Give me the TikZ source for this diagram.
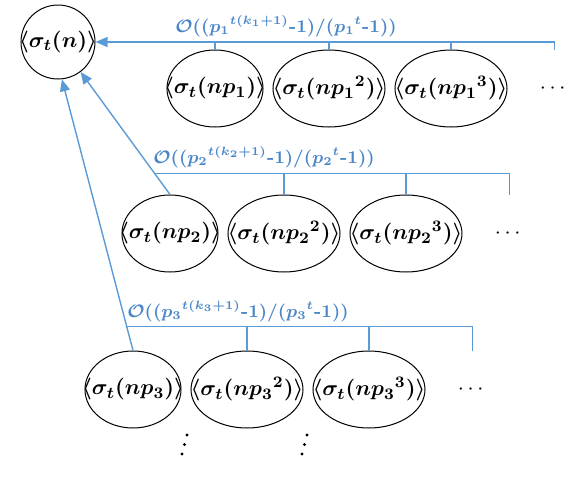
\documentclass[tikz,border=0pt]{standalone}
\usepackage{amsmath}
\usepackage{xcolor}
\definecolor{cLine}{HTML}{5B9BD5}
\definecolor{cText}{HTML}{4A86C8}
\usepackage{tikz}
\usetikzlibrary{positioning,arrows.meta,calc,shapes.geometric}
\tikzset{
  node-root/.style={draw=black,line width=0.5pt,circle,minimum size=37pt,
    inner sep=0pt,font=\fontsize{11.3}{13}\selectfont\boldmath},
  node-term/.style={draw=black,line width=0.5pt,ellipse,minimum width=56pt,
    minimum height=38.5pt,inner sep=0pt,font=\fontsize{11.3}{13}\selectfont\boldmath},
  node-dots/.style={inner sep=0pt,font=\fontsize{11}{13}\selectfont},
  arrow/.style={-{Triangle[length=6pt,width=5pt]},line width=0.7pt,draw=cLine},
  conn/.style={line width=0.7pt,draw=cLine},
  lbl/.style={text=cText,inner sep=0pt,font=\fontsize{9.2}{11}\selectfont\boldmath},
}
% zero-width box so the ellipse keeps its own size
\newcommand{\term}[1]{\makebox[0pt]{$\langle\sigma_t(#1)\rangle$}}
\newcommand{\hy}{\textbf{-}}

\begin{document}
\begin{tikzpicture}[x=0.5pt,y=-0.5pt,node distance=4.5pt]
  \useasboundingbox (0,0) rectangle (580,483);
  \node[node-root] (root) at (58,42) {\term{n}};
  % row 1
  \node[node-term,minimum width=48pt] (e11) at (215,88.5) {\term{np_1}};
  \node[node-term,right=of e11] (e12) {\term{n{p_1}^2}};
  \node[node-term,right=of e12] (e13) {\term{n{p_1}^3}};
  \node[node-dots,right=16pt of e13] (hd1) {$\cdots$};
  % row 2
  \node[node-term,minimum width=48pt] (e21) at (170,233.5) {\term{np_2}};
  \node[node-term,right=of e21] (e22) {\term{n{p_2}^2}};
  \node[node-term,right=of e22] (e23) {\term{n{p_2}^3}};
  \node[node-dots,right=16pt of e23] (hd2) {$\cdots$};
  % row 3
  \node[node-term,minimum width=48pt] (e31) at (133,389.5) {\term{np_3}};
  \node[node-term,right=of e31] (e32) {\term{n{p_3}^2}};
  \node[node-term,right=of e32] (e33) {\term{n{p_3}^3}};
  \node[node-dots,right=16pt of e33] (hd3) {$\cdots$};
  % slanted vertical dots below row 3
  \coordinate (vd1) at (187,435);
  \coordinate (vd2) at (307,435);
  \foreach \v in {vd1,vd2}
    \foreach \i in {0,1,2}
      \fill ($(\v)+(-2.5*\i,9.5*\i)$) circle (1.6);

  \coordinate (end1) at (hd1 |- e11.north);
  \coordinate (end2) at (hd2 |- e21.north);
  \coordinate (end3) at (hd3 |- e31.north);
  \coordinate (j2) at ($(e21.north)!0.17!(root.-53)$);
  \coordinate (j3) at ($(e31.north)!0.088!(root.-84)$);

  \draw[arrow] (end1) |- (root.east);
  \foreach \e in {e11,e12,e13} \draw[conn] (\e.north) -- (\e.north |- root.east);
  \draw[arrow] (e21.north) -- (root.-53);
  \draw[conn] (j2) -| (end2);
  \foreach \e in {e22,e23} \draw[conn] (\e.north) -- (\e.north |- j2);
  \draw[arrow] (e31.north) -- (root.-84);
  \draw[conn] (j3) -| (end3);
  \foreach \e in {e32,e33} \draw[conn] (\e.north) -- (\e.north |- j3);

  \node[lbl] (lbl1) at (286,26) {$\mathcal{O}(({p_1}^{t(k_1+1)}\hy1)/({p_1}^t\hy1))$};
  \node[lbl] (lbl2) at (264,157) {$\mathcal{O}(({p_2}^{t(k_2+1)}\hy1)/({p_2}^t\hy1))$};
  \node[lbl] (lbl3) at (238,311) {$\mathcal{O}(({p_3}^{t(k_3+1)}\hy1)/({p_3}^t\hy1))$};
\end{tikzpicture}
\end{document}
